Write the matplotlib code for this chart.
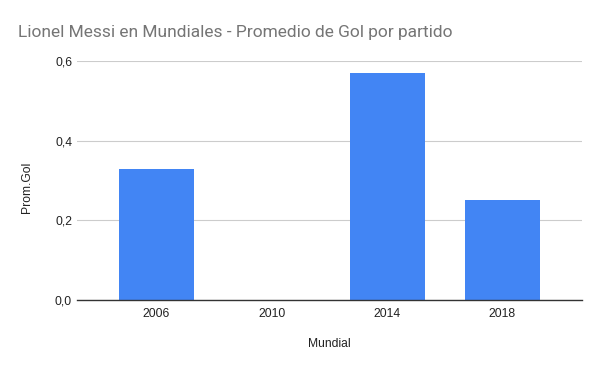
import matplotlib
matplotlib.use("Agg")
import matplotlib.pyplot as plt

categories = ["2006", "2010", "2014", "2018"]
values = [0.33, 0.0, 0.57, 0.25]
yticks = [0.0, 0.2, 0.4, 0.6]
ytick_labels = ["0,0", "0,2", "0,4", "0,6"]

fig = plt.figure(figsize=(6, 3.71), dpi=100)
ax = fig.add_axes([77/600, 1-300/371, 505/600, 239/371])

x = list(range(len(categories)))
ax.bar(x, values, width=0.65, color="#4285F4", zorder=2)
ax.set_xlim(-0.69, 3.69)
ax.set_ylim(0, 0.6)
ax.set_yticks(yticks)
ax.set_yticklabels(ytick_labels)
ax.set_xticks(x)
ax.set_xticklabels(categories)

for s in ["top", "right", "left"]:
    ax.spines[s].set_visible(False)
ax.spines["bottom"].set_color("#333333")
ax.spines["bottom"].set_linewidth(1)
ax.spines["bottom"].set_zorder(3)
ax.grid(axis="y", color="#cccccc", linewidth=0.8, zorder=0)
ax.tick_params(axis="both", length=0, labelsize=8.7, labelcolor="#222222",
               labelfontfamily="Liberation Sans")
ax.tick_params(axis="y", pad=3.6)
ax.tick_params(axis="x", pad=5.5)

fig.text(329/600, 1-344/371, "Mundial", fontsize=8.7, family="Liberation Sans",
         color="#222222", ha="center", va="center")
fig.text(27/600, 1-187/371, "Prom.Gol", fontsize=8.7, family="Liberation Sans",
         color="#222222", ha="center", va="center", rotation=90)

fig.text(18/600, 1-33/371, "Lionel Messi en Mundiales - Promedio de Gol por partido",
         fontsize=12.5, family="Roboto", color="#757575", va="center", ha="left")

fig.savefig("out.png", dpi=100, facecolor="white")
